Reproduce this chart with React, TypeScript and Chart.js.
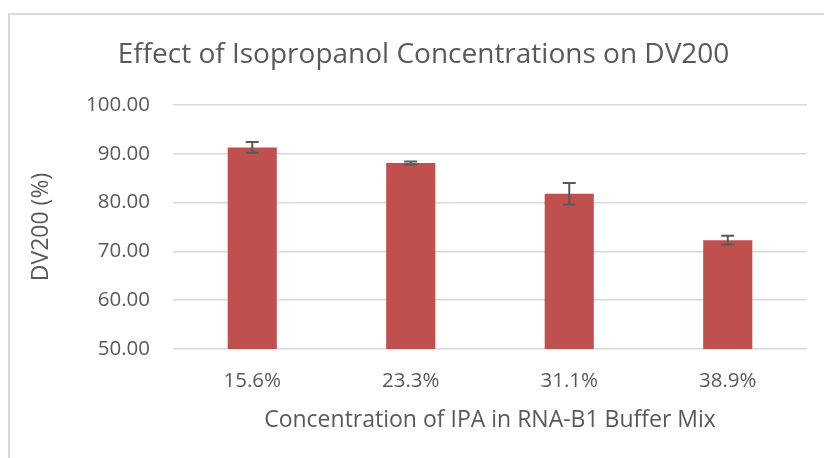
import React, { useEffect, useRef } from "react";
import { Chart, registerables } from "chart.js";

Chart.register(...registerables);

const chartTitle = "Effect of Isopropanol Concentrations on DV200";
const categories = ["15.6%", "23.3%", "31.1%", "38.9%"];
const dv200 = [91.3, 88.1, 81.8, 72.3];
const errors = [1.1, 0.3, 2.2, 0.9];
const yTicks = [50, 60, 70, 80, 90, 100];

const FONT = "'Open Sans', 'Noto Sans', sans-serif";
const TEXT = "#595959";
const GRID = "#D9D9D9";

const errorBarPlugin = {
  id: "errorBars",
  afterDatasetsDraw(chart: any) {
    const ctx = chart.ctx;
    const meta = chart.getDatasetMeta(0);
    const y = chart.scales.y;
    ctx.save();
    ctx.strokeStyle = "#595959";
    ctx.lineWidth = 2;
    meta.data.forEach((bar: any, i: number) => {
      const v = dv200[i];
      const e = errors[i];
      const top = y.getPixelForValue(v + e);
      const bot = y.getPixelForValue(v - e);
      const x = bar.x;
      const cap = 6.5;
      ctx.beginPath();
      ctx.moveTo(x, top);
      ctx.lineTo(x, bot);
      ctx.moveTo(x - cap, top);
      ctx.lineTo(x + cap, top);
      ctx.moveTo(x - cap, bot);
      ctx.lineTo(x + cap, bot);
      ctx.stroke();
    });
    ctx.restore();
  },
};

const framePlugin = {
  id: "frame",
  beforeDraw(chart: any) {
    const ctx = chart.ctx;
    ctx.save();
    ctx.fillStyle = "#ffffff";
    ctx.fillRect(0, 0, chart.width, chart.height);
    ctx.strokeStyle = GRID;
    ctx.lineWidth = 2;
    ctx.beginPath();
    ctx.moveTo(9, chart.height + 2);
    ctx.lineTo(9, 14);
    ctx.lineTo(chart.width + 2, 14);
    ctx.stroke();
    ctx.fillStyle = TEXT;
    ctx.font = `28px ${FONT}`;
    ctx.textAlign = "center";
    ctx.textBaseline = "middle";
    ctx.fillText(chartTitle, 423.5, 55);
    ctx.restore();
  },
};

export default function App() {
  const ref = useRef<HTMLCanvasElement | null>(null);
  useEffect(() => {
    if (!ref.current) return;
    const chart = new Chart(ref.current, {
      type: "bar",
      data: {
        labels: categories,
        datasets: [
          {
            label: "DV200",
            data: dv200,
            backgroundColor: "#C0504D",
            borderWidth: 0,
            barPercentage: 0.31,
            categoryPercentage: 1,
          },
        ],
      },
      plugins: [framePlugin, errorBarPlugin],
      options: {
        animation: false,
        responsive: false,
        maintainAspectRatio: false,
        layout: { padding: { left: 0, right: 17, top: 105, bottom: 0 } },
        plugins: {
          legend: { display: false },
          tooltip: { enabled: false },
          title: { display: false },
        },
        scales: {
          x: {
            grid: { display: false, drawTicks: false },
            border: { display: false },
            ticks: {
              color: TEXT,
              font: { family: FONT, size: 20.5 },
              padding: 20,
            },
            title: {
              display: true,
              text: "Concentration of IPA in RNA-B1 Buffer Mix",
              color: TEXT,
              font: { family: FONT, size: 23, lineHeight: 1.2 },
              padding: { top: 0, bottom: 24 },
            },
            afterFit(scale: any) {
              scale.height = 109;
            },
          },
          y: {
            min: 50,
            max: 100,
            afterBuildTicks(scale: any) {
              scale.ticks = yTicks.map((v) => ({ value: v }));
            },
            grid: { color: GRID, lineWidth: 1.5, drawTicks: false },
            border: { display: false },
            ticks: {
              color: TEXT,
              font: { family: FONT, size: 20.5 },
              padding: 23,
              callback: (v: any) => Number(v).toFixed(2),
            },
            title: {
              display: true,
              text: "DV200 (%)",
              color: TEXT,
              font: { family: FONT, size: 23, lineHeight: 1.2 },
              padding: { top: 28, bottom: 0 },
            },
            afterFit(scale: any) {
              scale.width = 173;
            },
          },
        },
      },
    });
    return () => chart.destroy();
  }, []);
  return (
    <div style={{ position: "absolute", left: 0, top: 0, width: 824, height: 458 }}>
      <canvas ref={ref} width={824} height={458} style={{ display: "block" }} />
    </div>
  );
}
